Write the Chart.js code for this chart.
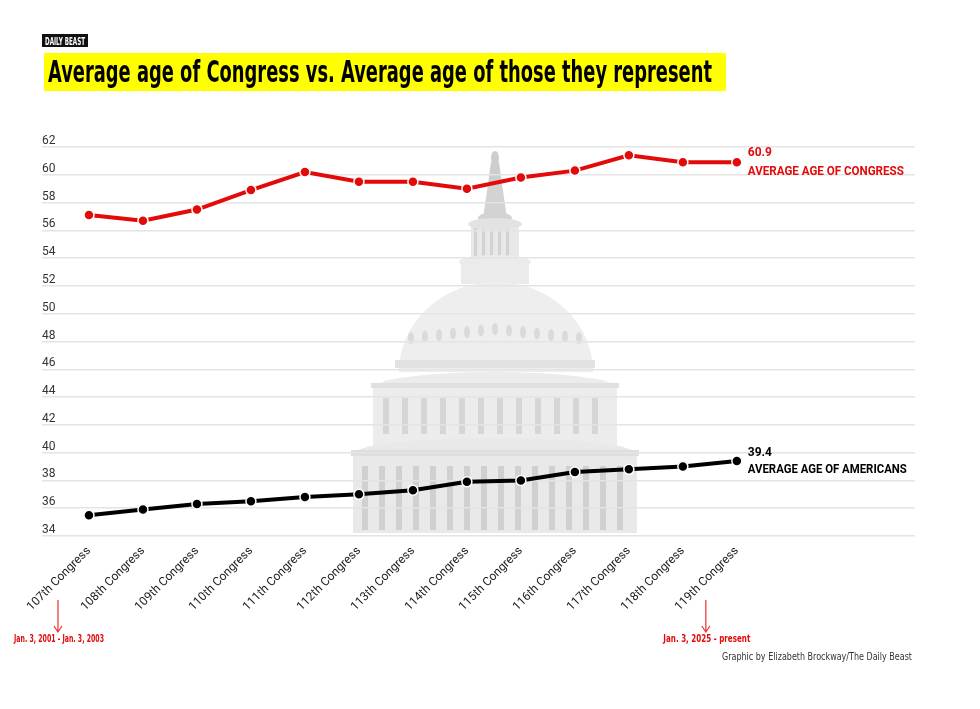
<!DOCTYPE html>
<html>
<head>
<meta charset="utf-8">
<script src="https://cdn.jsdelivr.net/npm/chart.js@4/dist/chart.umd.min.js"></script>
<style>
  html, body { margin: 0; padding: 0; background: #fff; }
  #chart { display: block; }
</style>
</head>
<body>
<canvas id="chart" width="980" height="709"></canvas>
<script>
// Data
const congresses = ['107th Congress', '108th Congress', '109th Congress', '110th Congress', '111th Congress',
  '112th Congress', '113th Congress', '114th Congress', '115th Congress', '116th Congress',
  '117th Congress', '118th Congress', '119th Congress'];
const congressAge = [57.1, 56.7, 57.5, 58.9, 60.2, 59.5, 59.5, 59.0, 59.8, 60.3, 61.4, 60.9, 60.9];
const americansAge = [35.5, 35.9, 36.3, 36.5, 36.8, 37.0, 37.3, 37.9, 38.0, 38.6, 38.8, 39.0, 39.4];
const seriesNames = ['AVERAGE AGE OF CONGRESS', 'AVERAGE AGE OF AMERICANS'];
const firstNote = 'Jan. 3, 2001 - Jan. 3, 2003';
const lastNote = 'Jan. 3, 2025 - present';

const RED = '#e30a0a';
const BLACK = '#000000';

// draw text squeezed/stretched to a given width
function fitText(ctx, text, x, y, width, font, color, align) {
  ctx.save();
  ctx.font = font;
  ctx.fillStyle = color;
  ctx.textBaseline = 'alphabetic';
  ctx.textAlign = 'left';
  const w = ctx.measureText(text).width;
  let left = x;
  if (align === 'center') left = x - width / 2;
  if (align === 'right') left = x - width;
  ctx.translate(left, y);
  ctx.scale(width / w, 1);
  ctx.fillText(text, 0, 0);
  ctx.restore();
}

function drawCapitol(ctx) {
  const cx = 495;
  ctx.save();
  // statue
  ctx.fillStyle = '#cdcdcd';
  ctx.beginPath(); ctx.ellipse(cx, 158, 4, 7, 0, 0, Math.PI * 2); ctx.fill();
  ctx.beginPath();
  ctx.moveTo(cx - 4, 162); ctx.lineTo(cx - 7, 184); ctx.lineTo(cx + 7, 184); ctx.lineTo(cx + 4, 162);
  ctx.closePath(); ctx.fill();
  // lantern
  ctx.fillStyle = '#d3d3d3';
  ctx.beginPath();
  ctx.moveTo(cx - 12, 218); ctx.lineTo(cx - 7, 184); ctx.lineTo(cx + 7, 184); ctx.lineTo(cx + 12, 218);
  ctx.closePath(); ctx.fill();
  ctx.beginPath(); ctx.ellipse(cx, 218, 17, 6, 0, 0, Math.PI * 2); ctx.fill();
  // tholos
  ctx.fillStyle = '#e8e8e8';
  ctx.fillRect(cx - 24, 222, 48, 40);
  ctx.fillStyle = '#d2d2d2';
  for (let x = cx - 21; x <= cx + 18; x += 8) ctx.fillRect(x, 228, 3, 32);
  ctx.fillStyle = '#e2e2e2';
  ctx.beginPath(); ctx.ellipse(cx, 224, 27, 6, 0, 0, Math.PI * 2); ctx.fill();
  ctx.fillStyle = '#ebebeb';
  ctx.fillRect(cx - 34, 260, 68, 24);
  ctx.beginPath(); ctx.ellipse(cx, 262, 36, 7, 0, 0, Math.PI * 2); ctx.fill();
  // dome
  ctx.fillStyle = '#eeeeee';
  ctx.beginPath(); ctx.ellipse(cx + 1, 372, 97, 90, 0, Math.PI, Math.PI * 2); ctx.fill();
  ctx.fillStyle = '#dadada';
  for (let i = -6; i <= 6; i++) {
    const x = cx + i * 14;
    ctx.beginPath(); ctx.ellipse(x, 329 + Math.abs(i) * 1.5, 3, 6, 0, 0, Math.PI * 2); ctx.fill();
  }
  ctx.fillStyle = '#e2e2e2';
  ctx.fillRect(cx - 100, 360, 200, 8);
  // upper drum
  ctx.fillStyle = '#ececec';
  ctx.beginPath(); ctx.ellipse(cx, 388, 122, 16, 0, Math.PI, Math.PI * 2); ctx.fill();
  ctx.fillRect(cx - 122, 387, 244, 62);
  ctx.fillStyle = '#d6d6d6';
  for (let x = cx - 112; x <= cx + 108; x += 19) ctx.fillRect(x, 398, 6, 36);
  ctx.fillStyle = '#e0e0e0';
  ctx.fillRect(cx - 124, 383, 248, 5);
  // lower drum / colonnade
  ctx.fillStyle = '#e9e9e9';
  ctx.beginPath(); ctx.ellipse(cx, 454, 142, 16, 0, Math.PI, Math.PI * 2); ctx.fill();
  ctx.fillRect(cx - 142, 453, 284, 80);
  ctx.fillStyle = '#d0d0d0';
  for (let x = cx - 133; x <= cx + 128; x += 17) ctx.fillRect(x, 466, 6, 64);
  ctx.fillStyle = '#dedede';
  ctx.fillRect(cx - 144, 450, 288, 6);
  ctx.restore();
}

const decorPlugin = {
  id: 'decor',
  beforeDraw(chart) {
    const ctx = chart.ctx;
    ctx.save();
    ctx.fillStyle = '#fff';
    ctx.fillRect(0, 0, chart.width, chart.height);
    // logo
    ctx.fillStyle = '#111';
    ctx.fillRect(42, 34, 46, 13);
    fitText(ctx, 'DAILY BEAST', 65, 45, 40, 'bold 11px "Liberation Sans Narrow", "DejaVu Sans Condensed", sans-serif', '#fff', 'center');
    // title
    ctx.fillStyle = '#ffff00';
    ctx.fillRect(44, 53, 682, 38);
    fitText(ctx, 'Average age of Congress vs. Average age of those they represent', 48, 82, 664,
      'bold 30px "Liberation Sans Narrow", "DejaVu Sans Condensed", sans-serif', '#000', 'left');
    ctx.restore();
    drawCapitol(ctx);
  },
  afterDatasetsDraw(chart) {
    const ctx = chart.ctx;
    const xs = chart.scales.x, ys = chart.scales.y;
    const last = congresses.length - 1;
    const lx = xs.getPixelForValue(last) + 11;
    const font = 'bold 12px Roboto, sans-serif';
    const yc = ys.getPixelForValue(congressAge[last]);
    const ya = ys.getPixelForValue(americansAge[last]);
    ctx.save();
    ctx.font = font;
    ctx.textBaseline = 'middle';
    ctx.fillStyle = RED;
    ctx.fillText(congressAge[last].toFixed(1), lx, yc - 9);
    ctx.fillStyle = BLACK;
    ctx.fillText(americansAge[last].toFixed(1), lx, ya - 8);
    ctx.restore();
    fitText(ctx, seriesNames[0], lx, yc + 13, 156, font, RED, 'left');
    fitText(ctx, seriesNames[1], lx, ya + 12, 159, font, BLACK, 'left');
  },
  afterDraw(chart) {
    const ctx = chart.ctx;
    const xs = chart.scales.x;
    const arrows = [[0, firstNote], [congresses.length - 1, lastNote]];
    arrows.forEach(([i, note]) => {
      const x = xs.getPixelForValue(i) - 31;
      ctx.save();
      ctx.strokeStyle = '#e8332e';
      ctx.lineWidth = 1.2;
      ctx.beginPath();
      ctx.moveTo(x, 600); ctx.lineTo(x, 632);
      ctx.moveTo(x - 4, 626); ctx.lineTo(x, 632); ctx.lineTo(x + 4, 626);
      ctx.stroke();
      ctx.restore();
      fitText(ctx, note, x + 1, 642, note === firstNote ? 90 : 87,
        'bold 10px "Liberation Sans Narrow", "DejaVu Sans Condensed", sans-serif', '#e30a0a', 'center');
    });
    fitText(ctx, 'Graphic by Elizabeth Brockway/The Daily Beast', 912, 660, 190,
      '10px "Liberation Sans Narrow", "DejaVu Sans Condensed", sans-serif', '#333', 'right');
  }
};

const toPoints = arr => arr.map((v, i) => ({ x: i, y: v }));

new Chart(document.getElementById('chart'), {
  type: 'line',
  data: {
    datasets: [
      {
        label: seriesNames[0],
        data: toPoints(congressAge),
        borderColor: RED,
        backgroundColor: RED,
        pointBackgroundColor: RED,
        borderWidth: 4,
        pointRadius: 5,
        pointBorderColor: '#fff',
        pointBorderWidth: 1.5,
        tension: 0
      },
      {
        label: seriesNames[1],
        data: toPoints(americansAge),
        borderColor: BLACK,
        backgroundColor: BLACK,
        pointBackgroundColor: BLACK,
        borderWidth: 4,
        pointRadius: 5,
        pointBorderColor: '#fff',
        pointBorderWidth: 1.5,
        tension: 0
      }
    ]
  },
  options: {
    responsive: false,
    animation: false,
    layout: { padding: { left: 42, right: 65, top: 147, bottom: 0 } },
    plugins: {
      legend: { display: false },
      tooltip: { enabled: false }
    },
    scales: {
      x: {
        type: 'linear',
        min: -0.87,
        max: 15.3,
        grid: { display: false, drawTicks: false },
        border: { display: false },
        afterBuildTicks: s => { s.ticks = congresses.map((_, i) => ({ value: i })); },
        afterFit: s => { s.height = 173; },
        ticks: {
          autoSkip: false,
          minRotation: 45,
          maxRotation: 45,
          padding: 8,
          color: '#222',
          font: { family: 'Roboto', size: 12 },
          callback: v => congresses[v]
        }
      },
      y: {
        min: 34,
        max: 62,
        grid: { color: '#e4e4e4', lineWidth: 1.5, drawTicks: false },
        border: { display: false },
        afterFit: s => { s.width = 0; },
        ticks: {
          stepSize: 2,
          mirror: true,
          padding: 0,
          labelOffset: -6,
          color: '#333',
          font: { family: 'Roboto', size: 12 }
        }
      }
    }
  },
  plugins: [decorPlugin]
});
</script>
</body>
</html>
